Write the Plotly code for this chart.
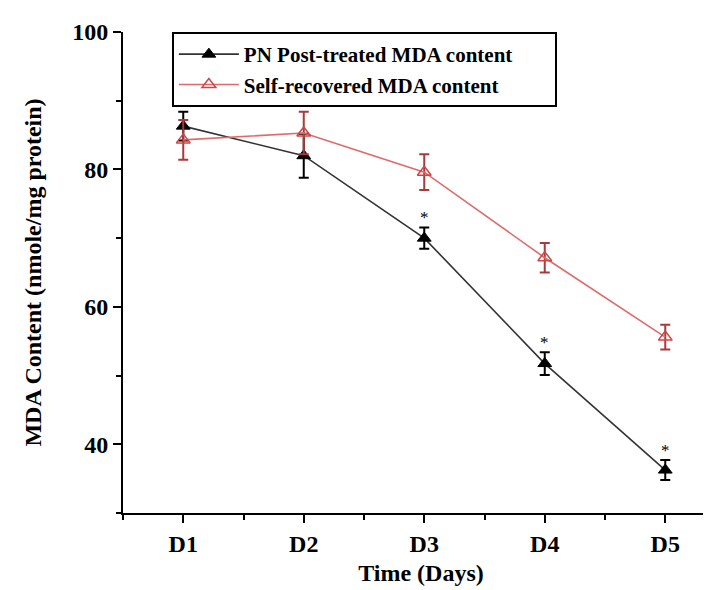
import plotly.graph_objects as go

days = ["D1", "D2", "D3", "D4", "D5"]
pn_mean = [86.3, 82.0, 70.0, 51.75, 36.25]
pn_err = [2.1, 3.2, 1.55, 1.65, 1.45]
self_mean = [84.3, 85.3, 79.6, 67.15, 55.6]
self_err = [2.9, 3.1, 2.6, 2.15, 1.8]
pn_sig = [False, False, True, True, True]
y_ticks = [40, 60, 80, 100]
series_names = ["PN Post-treated MDA content", "Self-recovered MDA content"]

xpos = list(range(1, len(days) + 1))
FONT = "Liberation Serif"
PAD = "\u00a0" * 7  # right padding inside the legend box

fig = go.Figure()
fig.add_trace(go.Scatter(
    x=xpos, y=pn_mean, name=series_names[0] + PAD,
    mode="lines+markers",
    line=dict(color="#333333", width=1.6),
    marker=dict(symbol="triangle-up", size=12, color="black", line=dict(color="black", width=1)),
    error_y=dict(type="data", array=pn_err, visible=True, color="black", thickness=2, width=5),
))
fig.add_trace(go.Scatter(
    x=xpos, y=self_mean, name=series_names[1],
    mode="lines+markers",
    line=dict(color="#e06a6a", width=1.6),
    marker=dict(symbol="triangle-up-open", size=12, color="#d04545", line=dict(color="#d04545", width=1.5)),
    error_y=dict(type="data", array=self_err, visible=True, color="#a83a3a", thickness=2, width=5),
))

for x, m, e, s in zip(xpos, pn_mean, pn_err, pn_sig):
    if s:
        fig.add_annotation(x=x, y=m + e, text="*", showarrow=False, yanchor="bottom",
                           yshift=-2, font=dict(family=FONT, size=17, color="black"))

fig.update_layout(
    width=711, height=590,
    margin=dict(l=115, r=0, t=24, b=85),
    paper_bgcolor="white", plot_bgcolor="white",
    font=dict(family=FONT, color="black"),
    showlegend=True,
    legend=dict(
        x=0.082, y=1.0, xanchor="left", yanchor="top",
        bgcolor="white", bordercolor="black", borderwidth=2,
        font=dict(family=FONT, size=21, weight="bold", color="black"),
        itemwidth=60, tracegroupgap=0,
    ),
)
fig.update_xaxes(
    automargin=False,
    range=[0.5, 5.446], tickvals=xpos, ticktext=days,
    showline=True, linecolor="black", linewidth=2, mirror=False,
    ticks="outside", ticklen=8, tickwidth=2, tickcolor="black",
    minor=dict(ticks="outside", ticklen=5, tickwidth=2, tickcolor="black", tick0=0.5, dtick=1),
    showgrid=False, zeroline=False,
    tickfont=dict(family=FONT, size=24, weight="bold", color="black"),
    title=dict(text="Time (Days)", font=dict(family=FONT, size=24, weight="bold", color="black"), standoff=8),
)
fig.update_yaxes(
    automargin=False,
    range=[30, 100], tickvals=y_ticks,
    showline=True, linecolor="black", linewidth=2,
    ticks="outside", ticklen=8, tickwidth=2, tickcolor="black",
    minor=dict(ticks="outside", ticklen=5, tickwidth=2, tickcolor="black", tick0=30, dtick=20),
    showgrid=False, zeroline=False,
    tickfont=dict(family=FONT, size=24, weight="bold", color="black"),
    title=dict(text="MDA Content (nmole/mg protein)", font=dict(family=FONT, size=24, weight="bold", color="black"), standoff=24),
)

fig.write_html("out.html")
